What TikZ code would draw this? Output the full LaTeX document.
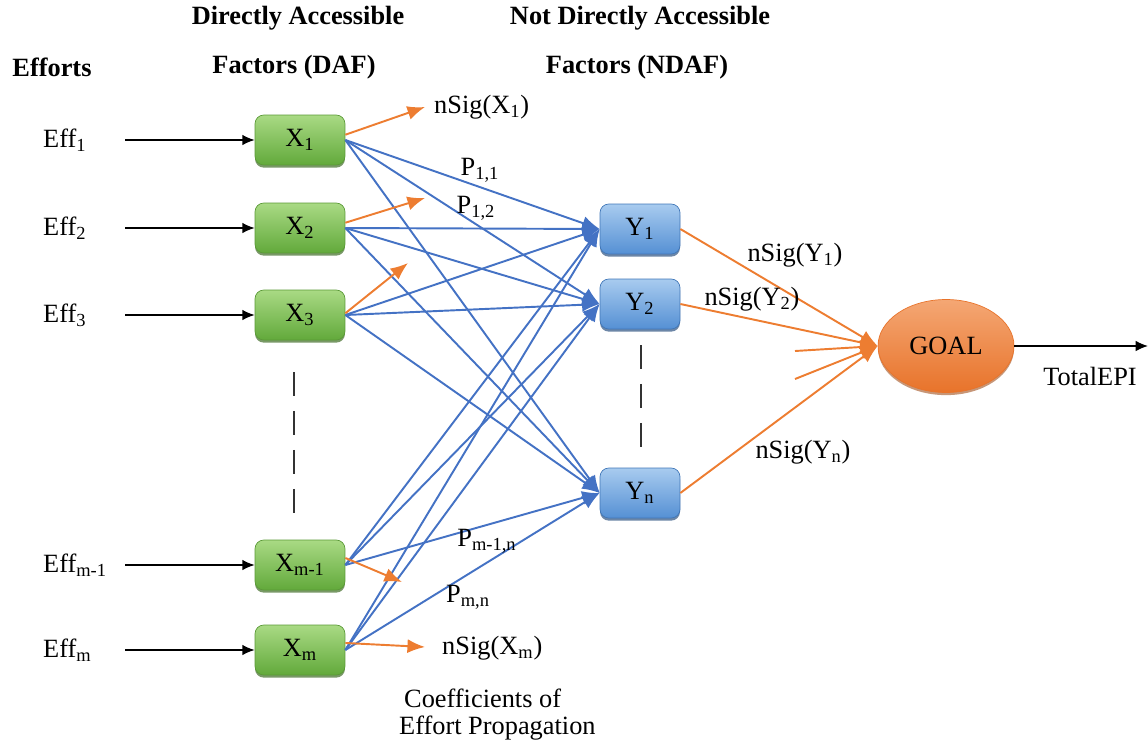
\documentclass[tikz,border=0pt]{standalone}
\usepackage{fontspec}
\setmainfont{Liberation Serif}
\usepackage{xcolor}
\usetikzlibrary{arrows.meta,shapes.geometric,shadows}
\definecolor{dafTop}{HTML}{A9DA84}
\definecolor{dafBot}{HTML}{62A93B}
\definecolor{dafLine}{HTML}{5B9A37}
\definecolor{ndafTop}{HTML}{A8CBEF}
\definecolor{ndafBot}{HTML}{5590D4}
\definecolor{ndafLine}{HTML}{4177B8}
\definecolor{goalTop}{HTML}{F4A774}
\definecolor{goalBot}{HTML}{E8732A}
\definecolor{propBlue}{HTML}{4472C4}
\definecolor{sigOrange}{HTML}{ED7D31}

\begin{document}
\begin{tikzpicture}[x=0.02cm,y=-0.02cm,font=\fontsize{15}{18}\selectfont,
		dafbox/.style={rounded corners=5pt,minimum width=1.8cm,minimum height=1cm,draw=dafLine,top color=dafTop,bottom color=dafBot,drop shadow={shadow xshift=0pt,shadow yshift=-1.5pt,fill=dafLine!70!black,opacity=0.7}},
		ndafbox/.style={rounded corners=5pt,minimum width=1.6cm,minimum height=1cm,draw=ndafLine,top color=ndafTop,bottom color=ndafBot,drop shadow={shadow xshift=0pt,shadow yshift=-1.5pt,fill=ndafLine!70!black,opacity=0.7}},
		goalnode/.style={ellipse,inner sep=0pt,minimum width=2.72cm,minimum height=1.86cm,draw=goalBot,top color=goalTop,bottom color=goalBot,drop shadow={shadow xshift=0pt,shadow yshift=-1.5pt,fill=goalBot!70!black,opacity=0.6}},
		effarrow/.style={-{Latex[length=7pt,width=6pt]},line width=0.8pt,black},
		proparrow/.style={-{Latex[length=10pt,width=8pt]},line width=1.1pt,propBlue},
		sigarrow/.style={-{Latex[length=10pt,width=8pt]},line width=1.1pt,sigOrange},
		dashline/.style={line width=1.1pt,black!80,dash pattern=on 0.48cm off 0.3cm}]
		\useasboundingbox (0,0) rectangle (1148,747);
		\node (efforts) at (52,67) {\textbf{Efforts}};
		\node (dafA) at (298,18) {\textbf{Directly Accessible}};
		\node (dafB) at (294,67) {\textbf{Factors (DAF)}};
		\node (ndafA) at (640,18) {\textbf{Not Directly Accessible}};
		\node (ndafB) at (637,67) {\textbf{Factors (NDAF)}};
		\foreach \n/\y/\s in {1/140/1,2/228/2,3/315/3,m1/565/m-1,m/650/m}{
			\node[anchor=west] (eff\n) at (37,\y) {Eff\textsubscript{\s}};
			\node[dafbox] (x\n) at (300,\y) {X\textsubscript{\s}};
			\coordinate (s\n) at (125,\y);
			\draw[effarrow] (s\n) -- (x\n);
		}
		\node[ndafbox] (y1) at (640,229) {Y\textsubscript{1}};
		\node[ndafbox] (y2) at (640,304) {Y\textsubscript{2}};
		\node[ndafbox] (yn) at (640,493) {Y\textsubscript{n}};
		\node[goalnode] (goal) at (946,346) {GOAL};
		\draw[dashline] (294,372) -- (294,514);
		\draw[dashline] (641,345) -- (641,452);
		\foreach \a in {x1,x2,x3,xm1,xm}
			\foreach \b in {y1,y2,yn}
				\draw[proparrow] (\a.east) -- (\b.west);
		\coordinate (o1) at (425,107);
		\coordinate (o2) at (425,198);
		\coordinate (o3) at (408,263);
		\coordinate (om1) at (402,582);
		\coordinate (om) at (425,647);
		\draw[sigarrow] ([yshift=3pt]x1.east) -- (o1);
		\draw[sigarrow] ([yshift=3pt]x2.east) -- (o2);
		\draw[sigarrow] ([yshift=1pt]x3.east) -- (o3);
		\draw[sigarrow] ([yshift=4pt]xm1.east) -- (om1);
		\draw[sigarrow] ([yshift=4pt]xm.east) -- (om);
		\node[anchor=west] (sigx1) at (428,107) {nSig(X\textsubscript{1})};
		\node[anchor=west] (sigxm) at (436,648) {nSig(X\textsubscript{m})};
		\coordinate (g1) at (795,351);
		\coordinate (g2) at (795,379);
		\draw[sigarrow] (y1.east) -- (goal.west);
		\draw[sigarrow] (y2.east) -- (goal.west);
		\draw[sigarrow] (yn.east) -- (goal.west);
		\draw[sigarrow] (g1) -- (goal.west);
		\draw[sigarrow] (g2) -- (goal.west);
		\node (sigy1) at (795,255) {nSig(Y\textsubscript{1})};
		\node (sigy2) at (752,299) {nSig(Y\textsubscript{2})};
		\node (sigyn) at (803,452) {nSig(Y\textsubscript{n})};
		\coordinate (out) at (1148,346);
		\draw[effarrow] (goal.east) -- (out);
		\node (total) at (1090,376) {TotalEPI};
		\node (p11) at (480,170) {P\textsubscript{1,1}};
		\node (p12) at (476,208) {P\textsubscript{1,2}};
		\node (pm1n) at (487,541) {P\textsubscript{m-1,n}};
		\node (pmn) at (468,597) {P\textsubscript{m,n}};
		\node[anchor=west] (coefA) at (398,698) {Coefficients of};
		\node[anchor=west] (coefB) at (393,728) {Effort Propagation};
	\end{tikzpicture}
\end{document}
